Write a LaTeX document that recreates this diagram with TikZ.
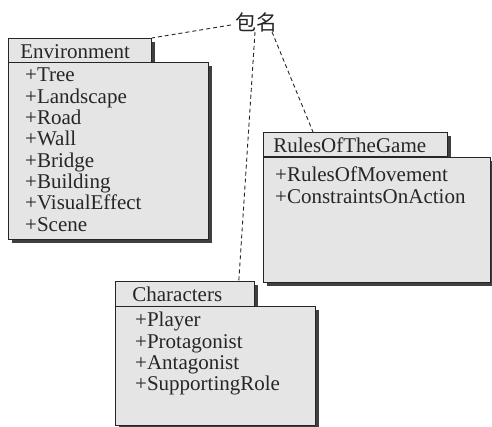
\documentclass[tikz,border=0pt]{standalone}
\usepackage{fontspec}
\setmainfont{Liberation Serif}
\newfontfamily\cjk{Noto Sans CJK SC}
\usetikzlibrary{shadows}

\begin{document}
\begin{tikzpicture}[x=1pt,y=-1pt,
  every node/.style={font=\fontsize{21}{21.3}\selectfont,text=black!85,inner sep=0pt},
  pkgshadow/.style={drop shadow={shadow xshift=4pt,shadow yshift=-4pt,fill=black!75,opacity=1}},
  pkgtab/.style={draw=black!85,line width=0.8pt,fill=black!10,pkgshadow,anchor=north west,
    text height=20pt,text depth=4.5pt,align=left},
  pkgbody/.style={draw=black!85,line width=0.8pt,fill=black!10,pkgshadow,anchor=north west},
  pkgitems/.style={anchor=north west,align=left,execute at begin node=\strut},
  pkglink/.style={black!85,line width=0.9pt,dash pattern=on 4pt off 3pt}]
\fill[white] (0,0) rectangle (492,427);
\useasboundingbox (0,0) rectangle (492,427);
% package: Environment
\node[pkgtab,inner xsep=12pt,text width=119pt] (envtab) at (8,38) {Environment};
\node[pkgbody,minimum width=200pt,minimum height=177pt] (envbody) at (8,62) {};
\node[pkgitems] (envitems) at (25,68)
  {+Tree\\+Landscape\\+Road\\+Wall\\+Bridge\\+Building\\+VisualEffect\\+Scene};
% package: RulesOfTheGame
\node[pkgtab,inner xsep=10pt,text width=164pt] (rulestab) at (263,132) {RulesOfTheGame};
\node[pkgbody,minimum width=227pt,minimum height=125pt] (rulesbody) at (263,157) {};
\node[pkgitems] (rulesitems) at (275,167) {+RulesOfMovement\\+ConstraintsOnAction};
% package: Characters
\node[pkgtab,inner xsep=17pt,text width=105pt] (chartab) at (115,281) {Characters};
\node[pkgbody,minimum width=200pt,minimum height=119pt] (charbody) at (115,306) {};
\node[pkgitems] (charitems) at (135,312)
  {+Player\\+Protagonist\\+Antagonist\\+SupportingRole};
% the name label
\node (pkgname) at (256,22) {\cjk 包名};
\draw[pkglink] ([xshift=-4pt,yshift=-3pt]pkgname.west) -- (envtab.north east);
\draw[pkglink] ([xshift=-1pt]pkgname.south) -- ([xshift=-16pt]chartab.north east);
\draw[pkglink] ([xshift=16pt]pkgname.south) -- ([xshift=50pt]rulestab.north west);
\end{tikzpicture}
\end{document}
